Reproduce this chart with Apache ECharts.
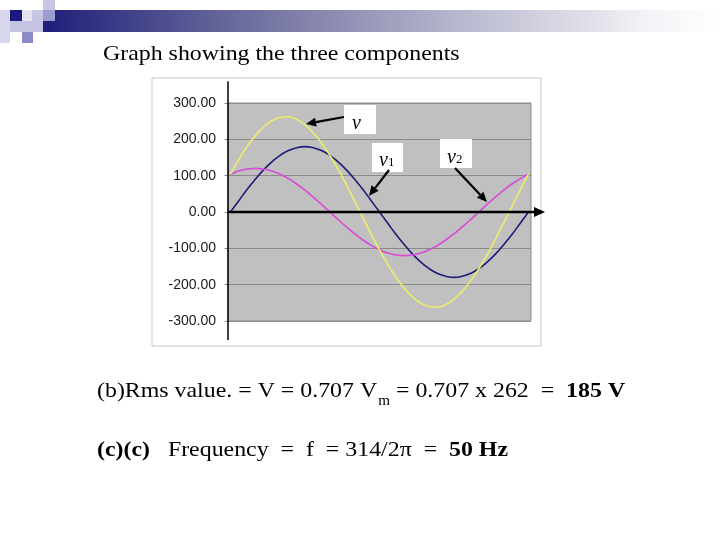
<!DOCTYPE html>
<html><head><meta charset="utf-8">
<script src="https://cdn.jsdelivr.net/npm/echarts@6/dist/echarts.min.js"></script>
<style>html,body{margin:0;padding:0;background:#fff}#c{width:720px;height:540px}</style>
</head><body><div id="c"></div>
<script>
// x positions (degrees of one cycle)
const angles = [0,10,20,30,40,50,60,70,80,90,100,110,120,130,140,150,160,170,180,190,200,210,220,230,240,250,260,270,280,290,300,310,320,330,340,350,360];
// v1 (navy)
const v1 = [0,31,62,90,116,138,156,169,177,180,177,169,156,138,116,90,62,31,0,-31,-62,-90,-116,-138,-156,-169,-177,-180,-177,-169,-156,-138,-116,-90,-62,-31,0];
// v2 (magenta)
const v2 = [104,113,118,120,118,113,104,92,77,60,41,21,0,-21,-41,-60,-77,-92,-104,-113,-118,-120,-118,-113,-104,-92,-77,-60,-41,-21,0,21,41,60,77,92,104];
// v (yellow)
const v = [104,144,180,210,234,251,260,262,255,240,218,190,156,118,75,30,-15,-61,-104,-144,-180,-210,-234,-251,-260,-262,-255,-240,-218,-190,-156,-118,-75,-30,15,61,104];
// y tick values
const yMin = -300, yMax = 300, yStep = 100;

const title = 'Graph showing the three components';
const line1 = ['(b)Rms value. = V = 0.707 V', 'm', ' = 0.707 x 262  =  ', '185 V'];
const line2 = ['(c)(c)', '   Frequency  =  f  = 314/2\u03c0  =  ', '50 Hz'];

const chart = echarts.init(document.getElementById('c'), null, {renderer: 'canvas'});
const pair = arr => angles.map((a, i) => [a, arr[i]]);

const lineSeries = (name, data, color) => ({
  name, type: 'line', data: pair(data), smooth: true, showSymbol: false, symbol: 'none',
  lineStyle: {color, width: 1.6}, itemStyle: {color}, animation: false
});

chart.setOption({
  animation: false,
  backgroundColor: '#ffffff',
  grid: {left: 228, right: 189, top: 103, bottom: 219, show: true,
         backgroundColor: '#c0c0c0', borderColor: '#8c8c8c', borderWidth: 1},
  xAxis: {type: 'value', min: -3, max: 363, show: false},
  yAxis: {type: 'value', min: yMin, max: yMax, interval: yStep,
    axisLine: {show: false},
    axisTick: {show: true, length: 6, lineStyle: {color: '#8c8c8c'}},
    axisLabel: {margin: 12, color: '#1a1a1a', fontFamily: 'Liberation Sans', fontSize: 14,
                formatter: val => val.toFixed(2)},
    splitLine: {show: true, lineStyle: {color: '#8a8a8a', width: 1}}
  },
  series: [
    lineSeries('v1', v1, '#1c1c78'),
    lineSeries('v2', v2, '#d84ad8'),
    lineSeries('v', v, '#eeee66')
  ]
});

// measuring helper
const ctx = document.createElement('canvas').getContext('2d');
const measure = (txt, font) => { ctx.font = font; return ctx.measureText(txt).width; };

const pLeft = chart.convertToPixel({gridIndex: 0}, [-3, 0]);
const pTop = chart.convertToPixel({gridIndex: 0}, [-3, 360]);
const pBot = chart.convertToPixel({gridIndex: 0}, [-3, -352]);
const pRight = chart.convertToPixel({gridIndex: 0}, [363, 0]);
const x0 = pLeft[0], y0 = pLeft[1];

const g = [];
// header decoration
g.push({type: 'rect', shape: {x: 43, y: 10, width: 677, height: 22},
  style: {fill: new echarts.graphic.LinearGradient(0, 0, 1, 0, [
    {offset: 0, color: '#1e1e7a'}, {offset: 0.3, color: '#6e6e9e'},
    {offset: 0.6, color: '#b4b4cc'}, {offset: 0.9, color: '#f4f4f8'}, {offset: 1, color: '#ffffff'}])}});
const sq = (x, y, w, h, c) => g.push({type: 'rect', shape: {x, y, width: w, height: h}, style: {fill: c}});
sq(0, 10, 10, 33, '#d6d6ec');
sq(10, 10, 12, 11, '#1a1a80');
sq(22, 10, 10, 11, '#e4e4f2');
sq(32, 10, 11, 11, '#c6c6e2');
sq(43, 0, 12, 10, '#c6c6e2');
sq(43, 10, 12, 11, '#9c9cd0');
sq(10, 21, 33, 11, '#c4c4e2');
sq(22, 32, 11, 11, '#8a8ac4');

const SX = 1.085;
// title
g.push({type: 'text', x: 103, y: 54, scaleX: SX, style: {text: title, font: '22px "Liberation Serif"', fill: '#000', verticalAlign: 'middle'}});

// chart frame
g.push({type: 'rect', shape: {x: 152, y: 78, width: 389, height: 268}, style: {fill: 'none', stroke: '#c8c8c8', lineWidth: 1}, z: 1});

// black axes
g.push({type: 'line', shape: {x1: x0, y1: pTop[1], x2: x0, y2: pBot[1]}, style: {stroke: '#000', lineWidth: 1.5}, z: 100});
g.push({type: 'line', shape: {x1: x0, y1: y0, x2: pRight[0] + 6, y2: y0}, style: {stroke: '#000', lineWidth: 2.5}, z: 100});
g.push({type: 'polygon', shape: {points: [[pRight[0] + 3, y0 - 5], [pRight[0] + 14, y0], [pRight[0] + 3, y0 + 5]]}, style: {fill: '#000'}, z: 100});

// annotation boxes with arrows
const arrow = (xa, ya, xb, yb) => {
  const ang = Math.atan2(yb - ya, xb - xa), L = 10, W = 4.5;
  const bx = xb - L * Math.cos(ang), by = yb - L * Math.sin(ang);
  g.push({type: 'line', shape: {x1: xa, y1: ya, x2: bx, y2: by}, style: {stroke: '#000', lineWidth: 2.2}, z: 110});
  g.push({type: 'polygon', shape: {points: [[xb, yb],
    [bx + W * Math.sin(ang), by - W * Math.cos(ang)], [bx - W * Math.sin(ang), by + W * Math.cos(ang)]]},
    style: {fill: '#000'}, z: 110});
};
const box = (x, y, w, h) => g.push({type: 'rect', shape: {x, y, width: w, height: h}, style: {fill: '#fff'}, z: 105});
const lab = (x, y, t, font, sx) => g.push({type: 'text', x, y, scaleX: sx || 1, style: {text: t, font, fill: '#000', verticalAlign: 'top'}, z: 106});
box(344, 105, 32, 29); lab(352, 114, 'v', 'italic 20px "Liberation Serif"');
box(372, 143, 31, 29); lab(379, 151, 'v', 'italic 20px "Liberation Serif"'); lab(388, 156, '1', '13px "Liberation Serif"');
box(440, 139, 32, 29); lab(447, 148, 'v', 'italic 20px "Liberation Serif"'); lab(456, 153, '2', '13px "Liberation Serif"');
arrow(344, 117, 306, 124);
arrow(389, 170, 369, 196);
arrow(455, 168, 487, 202);

// bottom text line 1
const f1 = '22px "Liberation Serif"', f1b = 'bold 22px "Liberation Serif"', fsub = '14px "Liberation Serif"';
let cx = 97;
lab(cx, 380, line1[0], f1, SX); cx += measure(line1[0], f1) * SX;
lab(cx + 1, 394, line1[1], fsub, SX); cx += measure(line1[1], fsub) * SX + 1;
lab(cx, 380, line1[2], f1, SX); cx += measure(line1[2], f1) * SX;
lab(cx, 380, line1[3], f1b, SX);
// line 2
cx = 97;
lab(cx, 439, line2[0], f1b, SX); cx += measure(line2[0], f1b) * SX;
lab(cx, 439, line2[1], f1, SX); cx += measure(line2[1], f1) * SX;
lab(cx, 439, line2[2], f1b, SX);

chart.setOption({graphic: g});
</script></body></html>
